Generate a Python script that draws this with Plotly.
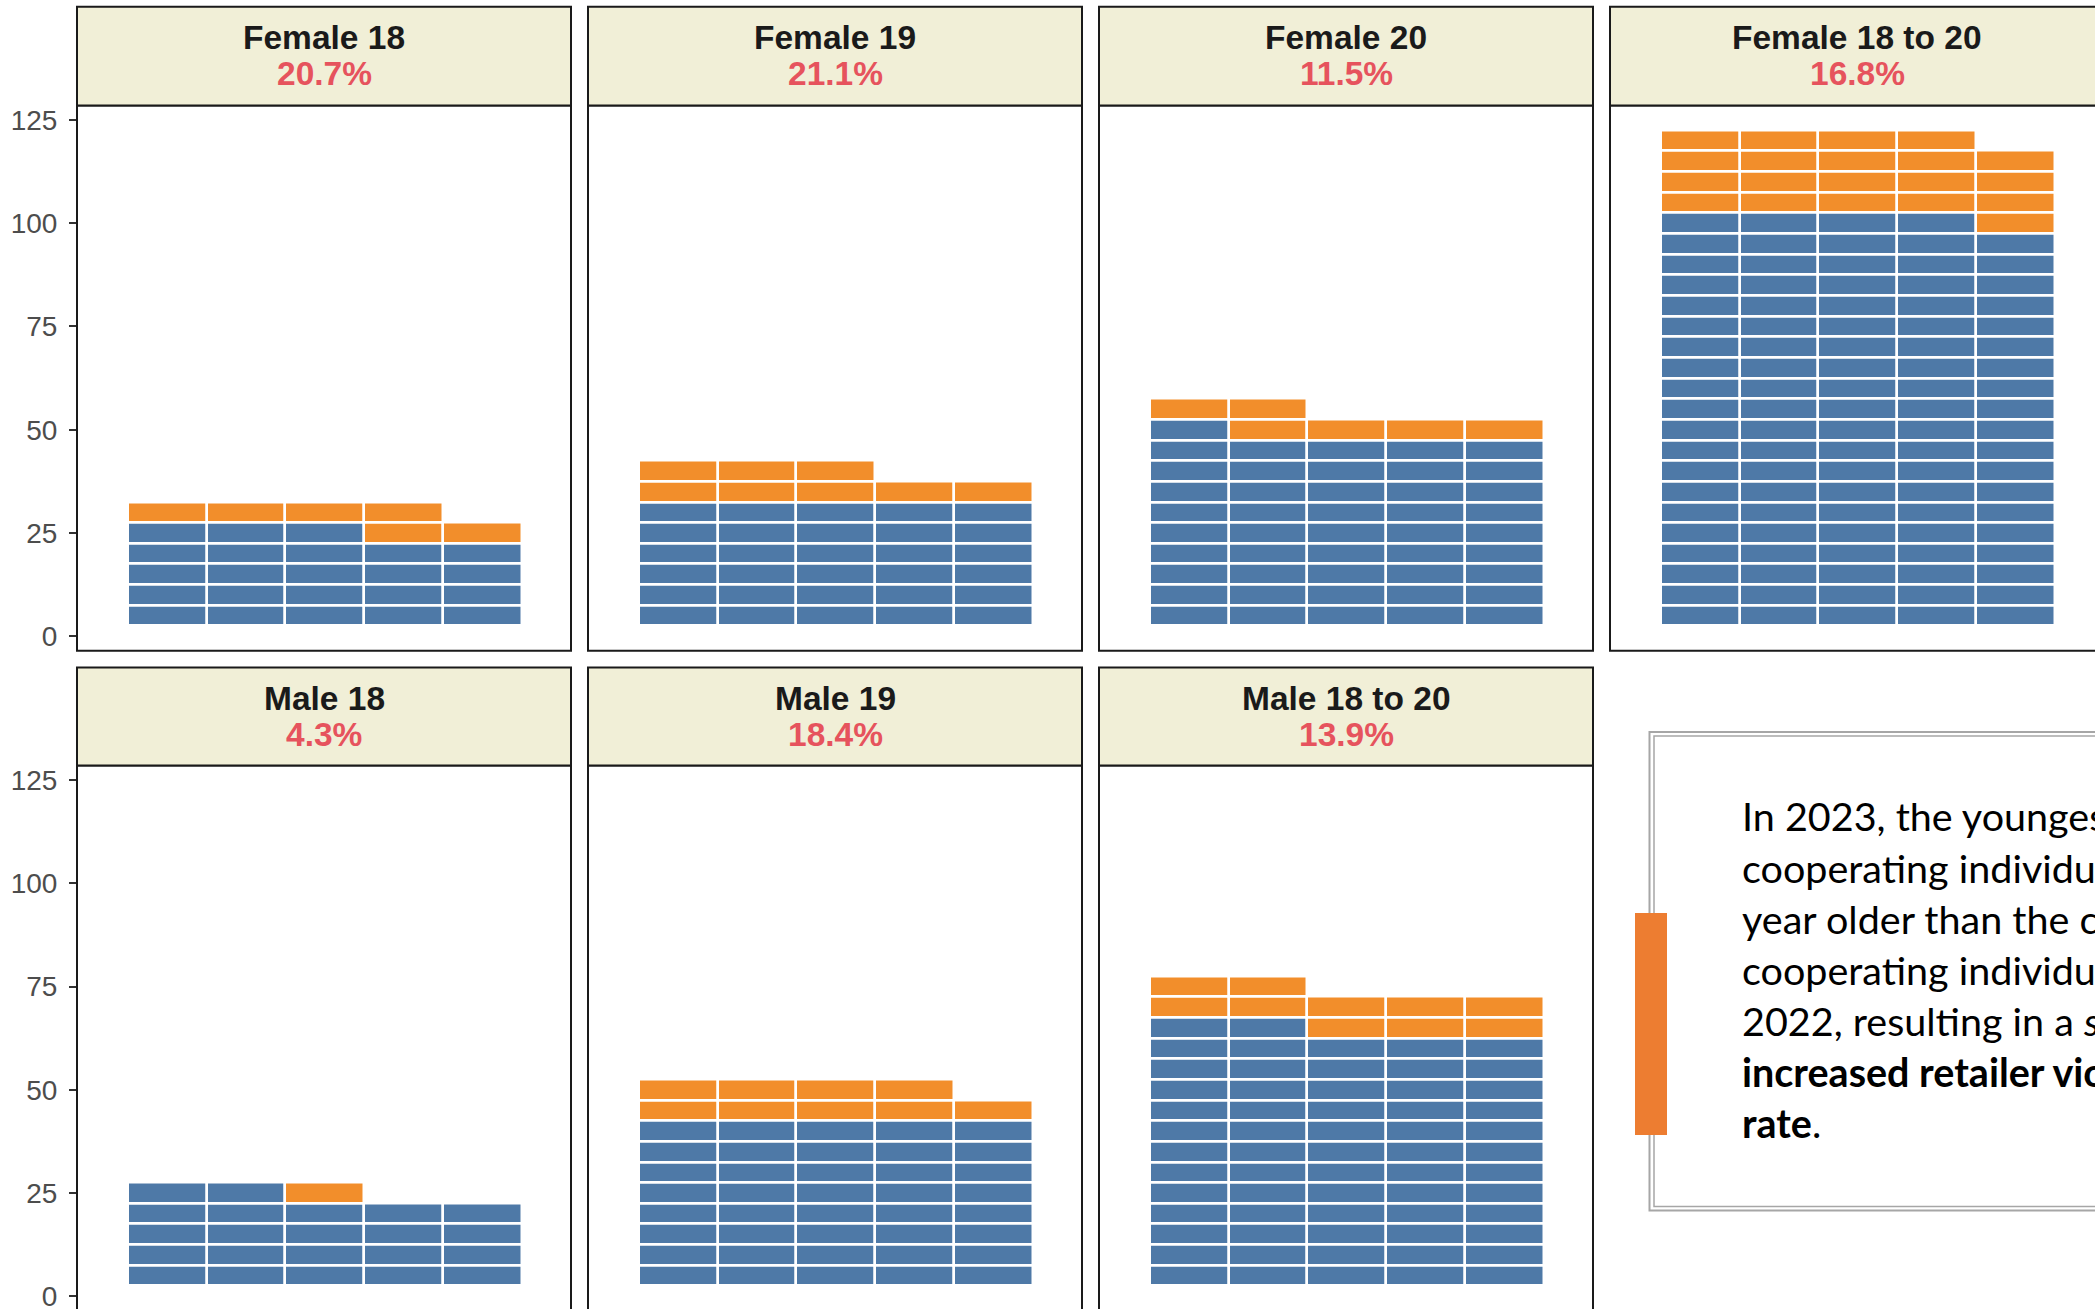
import plotly.graph_objects as go

# ---------------- data ----------------
panel_names = ["Female 18", "Female 19", "Female 20", "Female 18 to 20",
               "Male 18", "Male 19", "Male 18 to 20"]
panel_total = [29, 38, 52, 119, 23, 49, 72]          # cooperating individuals
panel_violations = [6, 8, 6, 20, 1, 9, 10]           # retailer violations
panel_row = [0, 0, 0, 0, 1, 1, 1]
panel_col = [0, 1, 2, 3, 0, 1, 2]
y_tick_vals = [0, 25, 50, 75, 100, 125]
n_cols = 5          # waffle columns
row_unit = 5        # y units per waffle row

note_lines = [
    "In 2023, the youngest",
    "cooperating individuals were a",
    "year older than the compared",
    "cooperating individuals in",
    "2022, resulting in a <i>slightly</i>",
    "<b>increased retailer violation</b>",
    "<b>rate</b>.",
]

# ---------------- style / layout constants ----------------
BLUE = "#4E79A7"
ORANGE = "#F28E2B"
STRIP_FILL = "#F1EFD7"
BORDER = "#1A1A1A"
PCT_RED = "#E6535D"
W, H = 2095, 1309

col_px = [(77, 571), (588, 1082), (1099, 1593), (1610, 2104)]
strip_px = [(6.7, 105.5), (667.5, 765.6)]
panel_px = [(105.5, 650.7), (765.6, 1310.8)]
Y_RANGE = (-3.5, 128.5)
PPU_Y = (650.7 - 105.5) / (Y_RANGE[1] - Y_RANGE[0])
X_START = -0.148
PPU_X = 78.7


def fx(p):
    return p / W


def fy(p):
    return 1 - p / H


fig = go.Figure()
shapes = []
annotations = []
layout_axes = {}

for i, name in enumerate(panel_names):
    r, c = panel_row[i], panel_col[i]
    n, k = panel_total[i], panel_violations[i]
    suffix = "" if i == 0 else str(i + 1)
    xa, ya = "x" + suffix, "y" + suffix

    # waffle cells, filled row-wise: compliant (blue) first, then violations (orange)
    cells = {"blue": ([], []), "orange": ([], [])}
    for idx in range(n):
        row, col = divmod(idx, n_cols)
        key = "blue" if idx < n - k else "orange"
        cells[key][0].append(col + 1)
        cells[key][1].append(row * row_unit + row_unit / 2)
    for key, color in (("blue", BLUE), ("orange", ORANGE)):
        xs, bases = cells[key]
        if not xs:
            continue
        fig.add_trace(go.Bar(
            x=xs, y=[row_unit] * len(xs), base=bases, width=1,
            marker=dict(color=color, line=dict(color="white", width=2.5)),
            xaxis=xa, yaxis=ya, showlegend=False, hoverinfo="skip"))

    x0p, x1p = col_px[c]
    x1v = min(x1p, W)
    dom_x = [fx(x0p), fx(x1v)]
    xr = [X_START, X_START + (x1v - x0p) / PPU_X]

    top_p, bot_p = panel_px[r]
    bot_v = min(bot_p, H)
    dom_y = [fy(bot_v), fy(top_p)]
    yr = [Y_RANGE[1] - (bot_v - top_p) / PPU_Y, Y_RANGE[1]]

    layout_axes["xaxis" + suffix] = dict(
        domain=dom_x, range=xr, anchor=ya, showticklabels=False, ticks="",
        showgrid=False, zeroline=False, showline=False, fixedrange=True,
        automargin=False)
    left = (c == 0)
    layout_axes["yaxis" + suffix] = dict(
        domain=dom_y, range=yr, anchor=xa, showgrid=False, zeroline=False,
        showline=False, fixedrange=True, automargin=False,
        tickvals=y_tick_vals if left else [], showticklabels=left,
        ticks="outside" if left else "", ticklen=7, tickwidth=2,
        tickcolor="#333333", ticklabelstandoff=6, ticklabeloverflow="allow",
        tickfont=dict(family="Liberation Sans, Arial", size=28, color="#4D4D4D"))

    # panel border
    shapes.append(dict(type="rect", xref="paper", yref="paper",
                       x0=fx(x0p), x1=fx(x1p), y0=fy(bot_p), y1=fy(top_p),
                       line=dict(color=BORDER, width=2), layer="above"))
    # strip
    s0, s1 = strip_px[r]
    shapes.append(dict(type="rect", xref="paper", yref="paper",
                       x0=fx(x0p), x1=fx(x1p), y0=fy(s1), y1=fy(s0),
                       fillcolor=STRIP_FILL, line=dict(color=BORDER, width=2),
                       layer="above"))
    cx = fx((x0p + x1p) / 2)
    annotations.append(dict(xref="paper", yref="paper", x=cx, y=fy(s0 + 30.5),
                            text="<b>%s</b>" % name, showarrow=False,
                            xanchor="center", yanchor="middle",
                            font=dict(family="Liberation Sans, Arial", size=33.5,
                                      color=BORDER)))
    annotations.append(dict(xref="paper", yref="paper", x=cx, y=fy(s0 + 67),
                            text="<b>%.1f%%</b>" % (100.0 * k / n), showarrow=False,
                            xanchor="center", yanchor="middle",
                            font=dict(family="Liberation Sans, Arial", size=33.5,
                                      color=PCT_RED)))

# note box: double grey frame + orange accent bar
shapes.append(dict(type="rect", xref="paper", yref="paper",
                   x0=fx(1649.5), x1=fx(2200), y0=fy(1210.5), y1=fy(732),
                   line=dict(color="#A6A6A6", width=2), layer="above"))
shapes.append(dict(type="rect", xref="paper", yref="paper",
                   x0=fx(1654), x1=fx(2200), y0=fy(1206.5), y1=fy(736),
                   line=dict(color="#A6A6A6", width=1.5), layer="above"))
shapes.append(dict(type="rect", xref="paper", yref="paper",
                   x0=fx(1635), x1=fx(1667), y0=fy(1135), y1=fy(913),
                   fillcolor="#ED7D31", line=dict(width=0), layer="above"))

NOTE_SIZE = 39.5
for j, line in enumerate(note_lines):
    baseline = 831 + 51.1 * j
    annotations.append(dict(xref="paper", yref="paper", x=fx(1740),
                            y=fy(baseline - 0.38 * NOTE_SIZE),
                            text=line, showarrow=False, xanchor="left",
                            yanchor="middle", align="left",
                            font=dict(family="Lato, Noto Sans", size=NOTE_SIZE,
                                      color="#000000")))

fig.update_layout(
    width=W, height=H, margin=dict(l=0, r=0, t=0, b=0, pad=0, autoexpand=False),
    paper_bgcolor="white", plot_bgcolor="white", barmode="overlay",
    bargap=0, shapes=shapes, annotations=annotations, **layout_axes)

post = (
    "document.documentElement.style.overflow='hidden';"
    "document.body.style.margin='0';"
    "document.body.style.overflow='hidden';"
    "window.scrollTo(0,0);"
)
fig.write_html("out.html", config={"displayModeBar": False}, post_script=post)
